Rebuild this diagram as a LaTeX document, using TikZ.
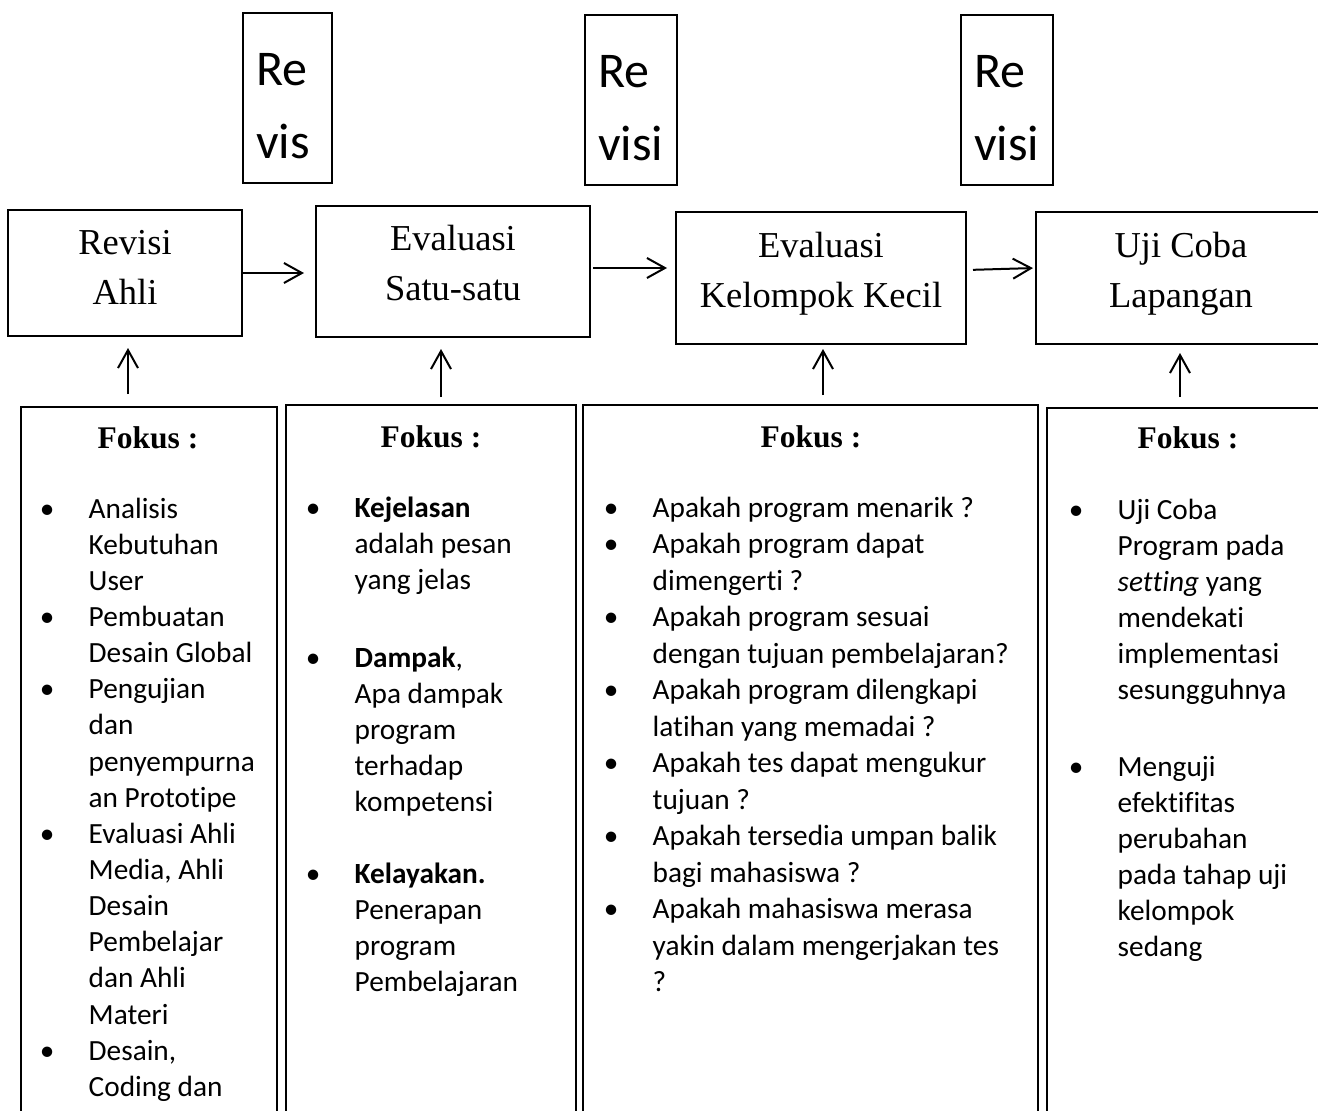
\documentclass[tikz,border=0pt]{standalone}
\usepackage{fontspec}
\setmainfont{Liberation Serif}
\newfontfamily\carl[Ligatures=NoCommon]{Carlito}
\usetikzlibrary{arrows.meta}

% list helpers: bullet centred on the start point, text after a fixed indent
\newlength\lsindent
\setlength\lsindent{41.5pt}
\newcommand\lsbul{\makebox[0pt]{\textbullet}\hspace{\lsindent}}
\newcommand\lsin{\hspace{\lsindent}}
\newcommand\lsfont[1]{\carl\fontsize{29.3}{#1}\selectfont}

\tikzset{
  box/.style={draw, line width=2pt, inner sep=0pt},
  stage/.style={inner sep=0pt, anchor=base, font=\fontsize{36.5}{50}\selectfont},
  revtext/.style={inner sep=0pt, anchor=base west, font=\carl\fontsize{50}{73}\selectfont},
  focus/.style={inner sep=0pt, anchor=base, font=\bfseries\fontsize{31.5}{36}\selectfont},
  lst/.style={inner sep=0pt, anchor=base west},
  arr/.style={line width=2pt, -{Straight Barb[length=18pt,width=20pt]}}
}

\begin{document}
\begin{tikzpicture}[x=1pt, y=-1pt]
\useasboundingbox (0,0) rectangle (1318,1111);
\clip (0,0) rectangle (1318,1111);

% stage boxes
\node[box, minimum width=234pt, minimum height=126pt] (t1) at (125,273) {};
\node[box, minimum width=274pt, minimum height=131pt] (t2) at (453,271.5) {};
\node[box, minimum width=290pt, minimum height=132pt] (t3) at (821,278) {};
\node[box, minimum width=290pt, minimum height=132pt] (t4) at (1181,278) {};

\node[stage] (t1txt) at (125,254) {\begin{tabular}[t]{@{}c@{}}Revisi\\Ahli\end{tabular}};
\node[stage] (t2txt) at (453,250) {\begin{tabular}[t]{@{}c@{}}Evaluasi\\Satu-satu\end{tabular}};
\node[stage] (t3txt) at (821,257) {\begin{tabular}[t]{@{}c@{}}Evaluasi\\Kelompok Kecil\end{tabular}};
\node[stage] (t4txt) at (1181,257) {\begin{tabular}[t]{@{}c@{}}Uji Coba\\Lapangan\end{tabular}};

% revision boxes
\node[box, minimum width=89pt, minimum height=170pt] (r1) at (287,98) {};
\node[box, minimum width=92pt, minimum height=170pt] (r2) at (631,100) {};
\node[box, minimum width=92pt, minimum height=170pt] (r3) at (1007,100) {};

\node[revtext] (r1txt) at (256,85) {\begin{tabular}[t]{@{}l@{}}Re\\vis\end{tabular}};
\node[revtext] (r2txt) at (598,87) {\begin{tabular}[t]{@{}l@{}}Re\\visi\end{tabular}};
\node[revtext] (r3txt) at (974,87) {\begin{tabular}[t]{@{}l@{}}Re\\visi\end{tabular}};

% focus boxes
\node[box, minimum width=256pt, minimum height=718pt] (f1) at (149,766) {};
\node[box, minimum width=290pt, minimum height=720pt] (f2) at (431,765) {};
\node[box, minimum width=455pt, minimum height=720pt] (f3) at (810.5,765) {};
\node[box, minimum width=282pt, minimum height=717pt] (f4) at (1188,766.5) {};

\node[focus] (f1h) at (148,448) {Fokus :};
\node[focus] (f2h) at (431,447) {Fokus :};
\node[focus] (f3h) at (811,447) {Fokus :};
\node[focus] (f4h) at (1188,448) {Fokus :};

\node[lst] (l1) at (47,518) {\lsfont{36.15}\begin{tabular}[t]{@{}l@{}}
\lsbul Analisis\\
\lsin Kebutuhan\\
\lsin User\\
\lsbul Pembuatan\\
\lsin Desain Global\\
\lsbul Pengujian\\
\lsin dan\\
\lsin penyempurna\\
\lsin an Prototipe\\
\lsbul Evaluasi Ahli\\
\lsin Media, Ahli\\
\lsin Desain\\
\lsin Pembelajar\\
\lsin dan Ahli\\
\lsin Materi\\
\lsbul Desain,\\
\lsin Coding dan
\end{tabular}};

\node[lst] (l2) at (313,517) {\lsfont{36}\begin{tabular}[t]{@{}l@{}}
\lsbul \textbf{Kejelasan}\\
\lsin adalah pesan\\
\lsin yang jelas\\
\\[6pt]
\lsbul \textbf{Dampak},\\
\lsin Apa dampak\\
\lsin program\\
\lsin terhadap\\
\lsin kompetensi\\
\\
\lsbul \textbf{Kelayakan.}\\
\lsin Penerapan\\
\lsin program\\
\lsin Pembelajaran
\end{tabular}};

\node[lst] (l3) at (611,517) {\lsfont{36.5}\begin{tabular}[t]{@{}l@{}}
\lsbul Apakah program menarik ?\\
\lsbul Apakah program dapat\\
\lsin dimengerti ?\\
\lsbul Apakah program sesuai\\
\lsin dengan tujuan pembelajaran?\\
\lsbul Apakah program dilengkapi\\
\lsin latihan yang memadai ?\\
\lsbul Apakah tes dapat mengukur\\
\lsin tujuan ?\\
\lsbul Apakah tersedia umpan balik\\
\lsin bagi mahasiswa ?\\
\lsbul Apakah mahasiswa merasa\\
\lsin yakin dalam mengerjakan tes\\
\lsin ?
\end{tabular}};

\node[lst] (l4) at (1076,519) {\lsfont{36}\begin{tabular}[t]{@{}l@{}}
\lsbul Uji Coba\\
\lsin Program pada\\
\lsin \textit{setting} yang\\
\lsin mendekati\\
\lsin implementasi\\
\lsin sesungguhnya\\
\\[5pt]
\lsbul Menguji\\
\lsin efektifitas\\
\lsin perubahan\\
\lsin pada tahap uji\\
\lsin kelompok\\
\lsin sedang
\end{tabular}};

% flow between stages
\draw[arr, shorten >=11pt] (t1.east) -- (t1.east -| t2.west);
\draw[arr, shorten <=2pt, shorten >=8pt] ([yshift=3.5pt]t2.east) -- ([yshift=3.5pt]t2.east -| t3.west);
\draw[arr, shorten <=6pt, shorten >=2pt] ([yshift=8pt]t3.east) -- ([yshift=10pt]t4.west);

% focus feeds each stage
\draw[arr, shorten <=12pt, shorten >=11pt] ([xshift=3pt]f1.north -| t1.south) -- ([xshift=3pt]t1.south);
\draw[arr, shorten <=7pt, shorten >=11pt] ([xshift=10pt]f2.north) -- ([xshift=10pt]f2.north |- t2.south);
\draw[arr, shorten <=9pt, shorten >=4pt] ([xshift=2pt]f3.north -| t3.south) -- ([xshift=2pt]t3.south);
\draw[arr, shorten <=10pt, shorten >=8pt] ([xshift=-1pt]f4.north -| t4.south) -- ([xshift=-1pt]t4.south);
\end{tikzpicture}
\end{document}
